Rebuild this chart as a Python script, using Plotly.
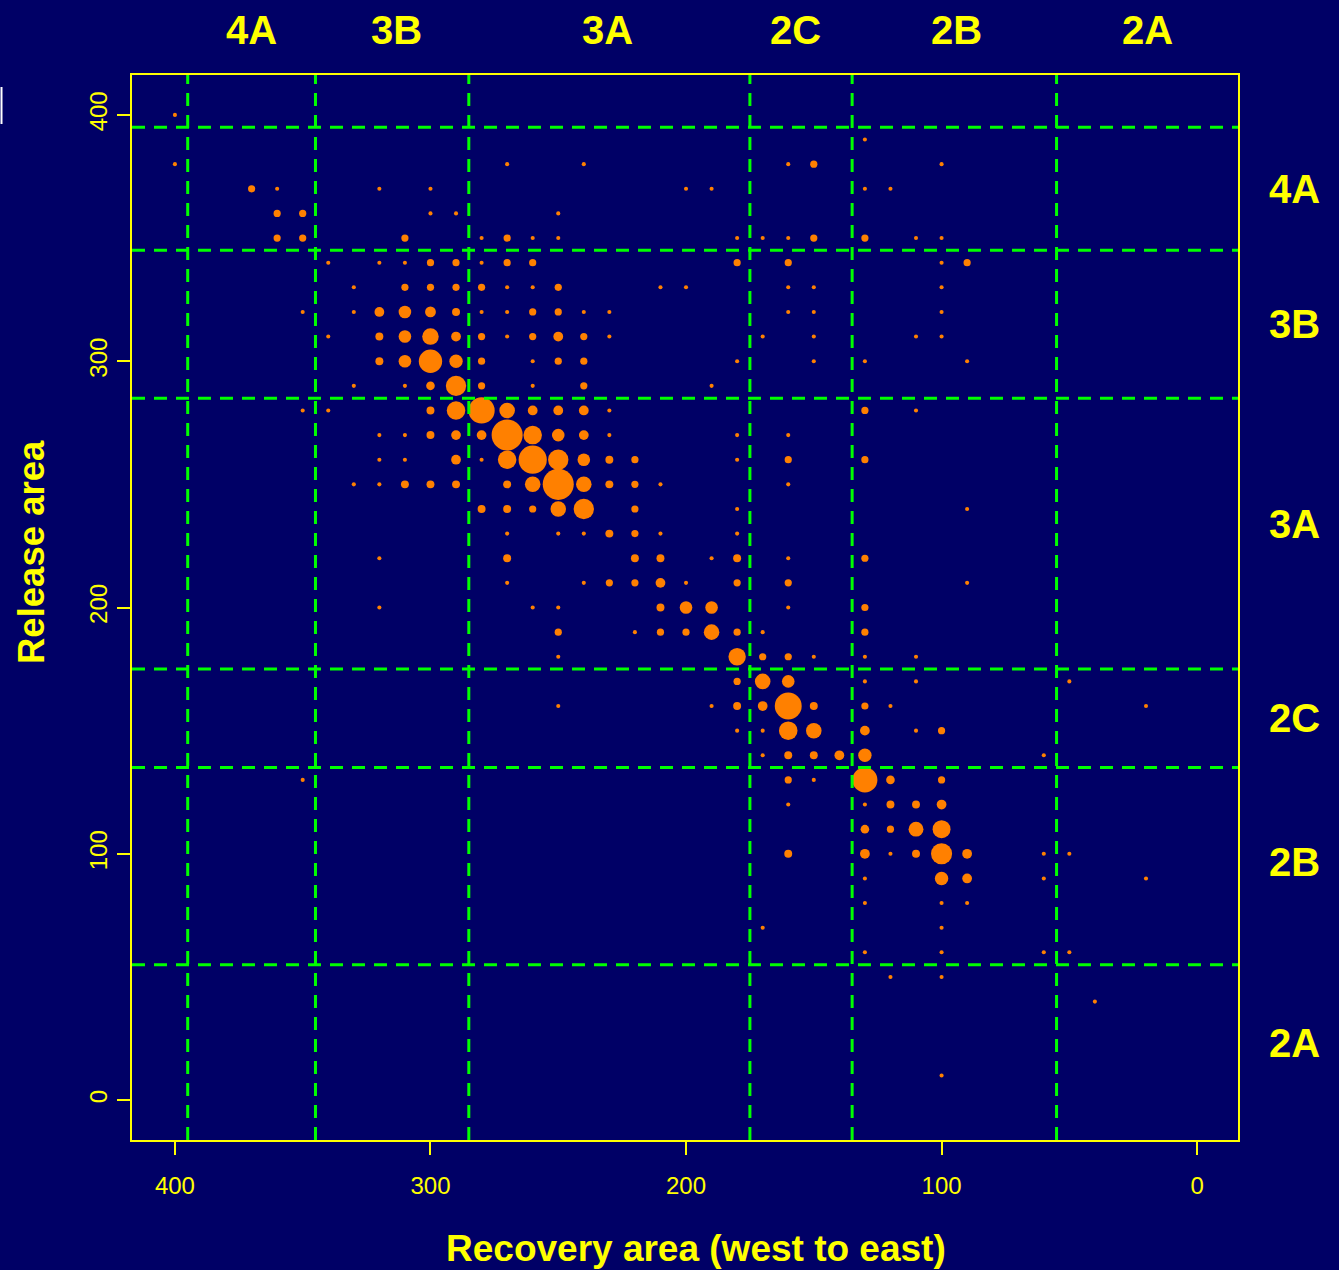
import numpy as np
import plotly.graph_objects as go

# ---- data ----
rec_x = [
    400,
    130,
    400, 270, 240, 160, 150, 100,
    370, 360, 320, 300, 200, 190, 130, 120,
    360, 350, 300, 290, 250,
    360, 350, 310, 280, 270, 260, 250, 180, 170, 160, 150, 130, 110, 100,
    340, 320, 310, 300, 290, 280, 270, 260, 180, 160, 100, 90,
    330, 310, 300, 290, 280, 270, 260, 250, 210, 200, 160, 150, 100,
    350, 330, 320, 310, 300, 290, 280, 270, 260, 250, 240, 230, 160, 150, 100,
    340, 320, 310, 300, 290, 280, 270, 260, 250, 240, 230, 170, 150, 110, 100,
    320, 310, 300, 290, 280, 260, 250, 240, 180, 150, 130, 90,
    330, 310, 300, 290, 280, 260, 240, 190,
    350, 340, 300, 290, 280, 270, 260, 250, 240, 230, 130, 110,
    320, 310, 300, 290, 280, 270, 260, 250, 240, 230, 180, 160,
    320, 310, 290, 280, 270, 260, 250, 240, 230, 220, 180, 160, 130,
    330, 320, 310, 300, 290, 270, 260, 250, 240, 230, 220, 210, 160,
    280, 270, 260, 250, 240, 220, 180, 90,
    270, 250, 240, 230, 220, 210, 180,
    320, 270, 220, 210, 190, 180, 160, 130,
    270, 240, 230, 220, 210, 200, 180, 160, 90,
    320, 260, 250, 210, 200, 190, 160, 130,
    250, 220, 210, 200, 190, 180, 170, 130,
    250, 180, 170, 160, 150, 130, 110,
    180, 170, 160, 130, 110, 50,
    250, 190, 180, 170, 160, 150, 130, 120, 20,
    180, 170, 160, 150, 130, 110, 100,
    170, 160, 150, 140, 130, 60,
    350, 160, 150, 130, 120, 100,
    160, 130, 120, 110, 100,
    130, 120, 110, 100,
    160, 130, 120, 110, 100, 90, 60, 50,
    130, 100, 90, 60, 20,
    130, 100, 90,
    170, 100,
    130, 100, 60, 50,
    120, 100,
    40,
    100,
]

rel_y = [
    400,
    390,
    380, 380, 380, 380, 380, 380,
    370, 370, 370, 370, 370, 370, 370, 370,
    360, 360, 360, 360, 360,
    350, 350, 350, 350, 350, 350, 350, 350, 350, 350, 350, 350, 350, 350,
    340, 340, 340, 340, 340, 340, 340, 340, 340, 340, 340, 340,
    330, 330, 330, 330, 330, 330, 330, 330, 330, 330, 330, 330, 330,
    320, 320, 320, 320, 320, 320, 320, 320, 320, 320, 320, 320, 320, 320, 320,
    310, 310, 310, 310, 310, 310, 310, 310, 310, 310, 310, 310, 310, 310, 310,
    300, 300, 300, 300, 300, 300, 300, 300, 300, 300, 300, 300,
    290, 290, 290, 290, 290, 290, 290, 290,
    280, 280, 280, 280, 280, 280, 280, 280, 280, 280, 280, 280,
    270, 270, 270, 270, 270, 270, 270, 270, 270, 270, 270, 270,
    260, 260, 260, 260, 260, 260, 260, 260, 260, 260, 260, 260, 260,
    250, 250, 250, 250, 250, 250, 250, 250, 250, 250, 250, 250, 250,
    240, 240, 240, 240, 240, 240, 240, 240,
    230, 230, 230, 230, 230, 230, 230,
    220, 220, 220, 220, 220, 220, 220, 220,
    210, 210, 210, 210, 210, 210, 210, 210, 210,
    200, 200, 200, 200, 200, 200, 200, 200,
    190, 190, 190, 190, 190, 190, 190, 190,
    180, 180, 180, 180, 180, 180, 180,
    170, 170, 170, 170, 170, 170,
    160, 160, 160, 160, 160, 160, 160, 160, 160,
    150, 150, 150, 150, 150, 150, 150,
    140, 140, 140, 140, 140, 140,
    130, 130, 130, 130, 130, 130,
    120, 120, 120, 120, 120,
    110, 110, 110, 110,
    100, 100, 100, 100, 100, 100, 100, 100,
    90, 90, 90, 90, 90,
    80, 80, 80,
    70, 70,
    60, 60, 60, 60,
    50, 50,
    40,
    10,
]

count = [
    1,
    1,
    1, 1, 1, 1, 4, 1,
    4, 1, 1, 1, 1, 1, 1, 1,
    4, 4, 1, 1, 1,
    4, 4, 4, 1, 4, 1, 1, 1, 1, 1, 4, 4, 1, 1,
    1, 1, 1, 4, 4, 1, 4, 4, 4, 4, 1, 4,
    1, 4, 4, 4, 4, 1, 1, 4, 1, 1, 1, 1, 1,
    1, 1, 8, 14, 10, 5, 1, 1, 4, 4, 1, 1, 1, 1, 1,
    1, 5, 14, 25, 8, 4, 1, 4, 8, 4, 1, 1, 1, 1, 1,
    5, 14, 52, 16, 4, 1, 4, 4, 1, 1, 1, 1,
    1, 1, 6, 39, 4, 1, 4, 1,
    1, 1, 5, 32, 66, 22, 8, 8, 8, 1, 4, 1,
    1, 1, 5, 8, 8, 94, 32, 14, 8, 1, 1, 1,
    1, 1, 8, 1, 32, 77, 39, 14, 5, 4, 1, 4, 4,
    1, 1, 5, 5, 5, 5, 22, 94, 22, 5, 4, 1, 1,
    5, 5, 4, 22, 39, 4, 1, 1,
    1, 1, 1, 5, 4, 1, 1,
    1, 5, 5, 5, 1, 5, 1, 4,
    1, 1, 4, 4, 8, 1, 4, 4, 1,
    1, 1, 1, 5, 14, 14, 1, 4,
    4, 1, 4, 4, 22, 4, 1, 4,
    1, 28, 4, 4, 1, 1, 1,
    4, 22, 14, 1, 1, 1,
    1, 1, 5, 8, 70, 5, 4, 1, 1,
    1, 1, 32, 22, 8, 1, 4,
    1, 5, 5, 8, 16, 1,
    1, 4, 1, 60, 6, 4,
    1, 1, 5, 5, 8,
    6, 4, 20, 30,
    5, 8, 1, 5, 42, 8, 1, 1,
    1, 16, 8, 1, 1,
    1, 1, 1,
    1, 1,
    1, 1, 1, 1,
    1, 1,
    1,
    1,
]

area_bounds = [395, 345, 285, 175, 135, 55]
area_labels = ["4A", "3B", "3A", "2C", "2B", "2A"]
top_label_x = [370, 313.4, 230.8, 157, 94.2, 19.6]
right_label_y = [370, 315, 234, 155, 96.6, 23.2]
x_ticks = [0, 100, 200, 300, 400]
y_ticks = [0, 100, 200, 300, 400]

# ---- styling ----
BG = "#000066"
YEL = "#FFFF00"
GRN = "#00FF00"
ORG = "#FF8000"
FONT = "Liberation Sans, Arial, sans-serif"

W, H = 1339, 1270
L, R, T, B = 132, 101, 75, 130
pw, ph = W - L - R, H - T - B


def px_x(p):
    return (p - L) / pw


def px_y(p):
    return (H - B - p) / ph


sizes = 1.0 + 3.1 * np.sqrt(np.array(count, dtype=float))

fig = go.Figure()
fig.add_trace(go.Scatter(
    x=rec_x, y=rel_y, mode="markers",
    marker=dict(size=sizes, color=ORG, line=dict(width=0), opacity=1),
    hoverinfo="x+y+text", text=[str(c) for c in count],
    showlegend=False,
))

shapes = []
for b in area_bounds:
    shapes.append(dict(type="line", xref="x", yref="paper", x0=b, x1=b, y0=0, y1=1,
                       line=dict(color=GRN, width=3, dash="13px,9px"), layer="above"))
    shapes.append(dict(type="line", xref="paper", yref="y", x0=0, x1=1, y0=b, y1=b,
                       line=dict(color=GRN, width=3, dash="13px,9px"), layer="above"))
# small white mark at top-left edge of the page
shapes.append(dict(type="line", xref="paper", yref="paper", x0=px_x(1.5), x1=px_x(1.5),
                   y0=px_y(87), y1=px_y(124), line=dict(color="#FFFFFF", width=2)))

annotations = []
for lab, xm, ym in zip(area_labels, top_label_x, right_label_y):
    annotations.append(dict(x=xm, y=px_y(30), xref="x", yref="paper", text=lab,
                            showarrow=False, xanchor="center", yanchor="middle",
                            font=dict(family=FONT, size=40, color=YEL, weight="bold")))
    annotations.append(dict(x=px_x(1294), y=ym, xref="paper", yref="y", text=lab,
                            showarrow=False, xanchor="center", yanchor="middle",
                            font=dict(family=FONT, size=40, color=YEL, weight="bold")))
annotations.append(dict(x=px_x(696), y=px_y(1248), xref="paper", yref="paper",
                        text="Recovery area (west to east)", showarrow=False,
                        xanchor="center", yanchor="middle",
                        font=dict(family=FONT, size=37, color=YEL, weight="bold")))
annotations.append(dict(x=px_x(31), y=px_y(552), xref="paper", yref="paper",
                        text="Release area", showarrow=False, textangle=-90,
                        xanchor="center", yanchor="middle",
                        font=dict(family=FONT, size=36.5, color=YEL, weight="bold")))

axis_common = dict(
    showgrid=False, zeroline=False, showline=True, mirror=True,
    linecolor=YEL, linewidth=2, ticks="outside", ticklen=13, tickwidth=1.5,
    tickcolor=YEL, tickfont=dict(family=FONT, size=24, color=YEL),
)

fig.update_layout(
    width=W, height=H, autosize=False,
    margin=dict(l=L, r=R, t=T, b=B, pad=0),
    paper_bgcolor=BG, plot_bgcolor=BG,
    xaxis=dict(range=[416.8, -16.0], tickvals=x_ticks, ticklabelstandoff=10, **axis_common),
    yaxis=dict(range=[-16.2, 416.2], tickvals=y_ticks, tickangle=-90, **axis_common),
    shapes=shapes, annotations=annotations,
)

fig.write_html("out.html", config={"displayModeBar": False},
               post_script="document.body.style.margin='0';")
